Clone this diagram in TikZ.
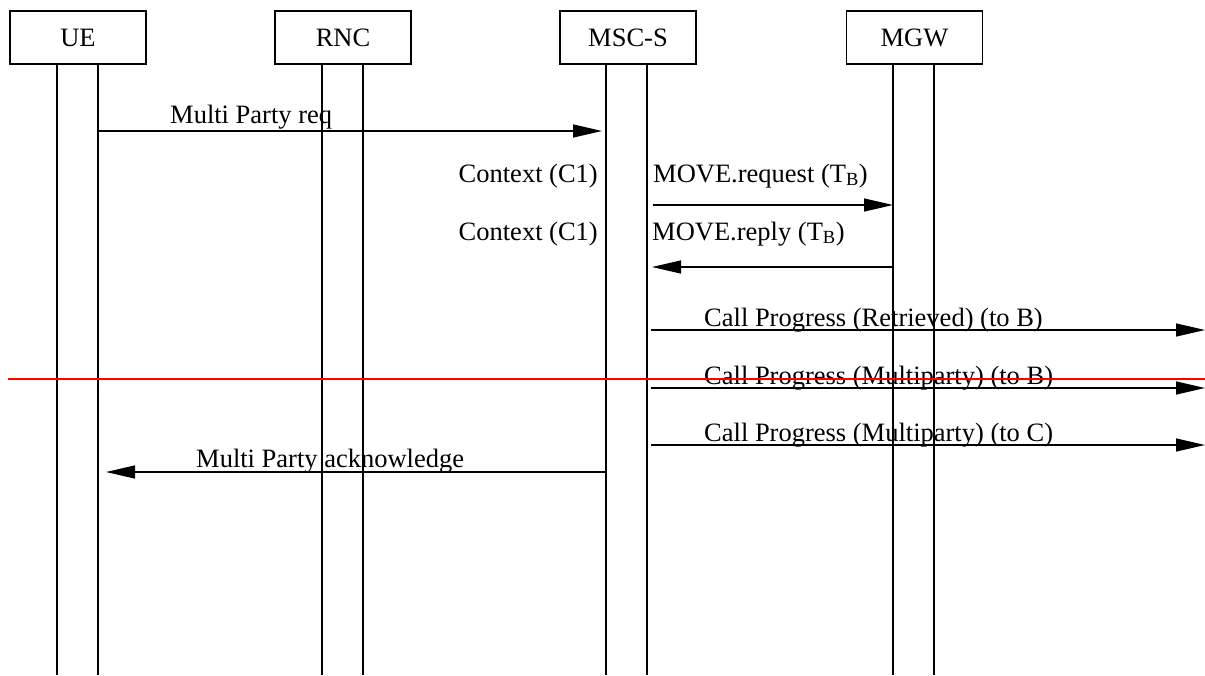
\documentclass[tikz,border=0pt]{standalone}
\usepackage{fontspec}
\setmainfont{Liberation Serif}
\usetikzlibrary{arrows.meta}
\begin{document}
\begin{tikzpicture}[x=1pt,y=-1pt,
  entity/.style={draw, line width=1.3pt, minimum width=136pt, minimum height=53pt, inner sep=0pt, font=\fontsize{26.5}{30}\selectfont},
  life/.style={line width=1.3pt},
  msg/.style={line width=1.3pt, -{Triangle[length=29pt,width=13pt]}},
  lbl/.style={inner sep=0pt, font=\fontsize{26.5}{30}\selectfont},
  redline/.style={line width=1.4pt, draw=red}]
\useasboundingbox (0,0) rectangle (1205,675);
% entities
\node[entity] (ue)  at (78,37.5)  {UE};
\node[entity] (rnc) at (343,37.5) {RNC};
\node[entity] (msc) at (628,37.5) {MSC-S};
\node[entity] (mgw) at (914.5,37.5) {MGW};
% lifeline coordinates
\coordinate (ueA) at (57,64);   \coordinate (ueAb) at (57,675);
\coordinate (ueB) at (98,64);   \coordinate (ueBb) at (98,675);
\coordinate (rncA) at (322,64); \coordinate (rncAb) at (322,675);
\coordinate (rncB) at (363,64); \coordinate (rncBb) at (363,675);
\coordinate (mscA) at (606,64); \coordinate (mscAb) at (606,675);
\coordinate (mscB) at (647,64); \coordinate (mscBb) at (647,675);
\coordinate (mgwA) at (893,64); \coordinate (mgwAb) at (893,675);
\coordinate (mgwB) at (934,64); \coordinate (mgwBb) at (934,675);
\foreach \l in {ueA,ueB,rncA,rncB,mscA,mscB,mgwA,mgwB}
  \draw[life] (\l) -- (\l b);
% message end points
\coordinate (m1s) at (98,131);  \coordinate (m1e) at (602,131);
\coordinate (m2s) at (653,205); \coordinate (m2e) at (893,205);
\coordinate (m3s) at (893,267); \coordinate (m3e) at (652,267);
\coordinate (m4s) at (651,330); \coordinate (m4e) at (1205,330);
\coordinate (m5s) at (651,388); \coordinate (m5e) at (1205,388);
\coordinate (m6s) at (651,445); \coordinate (m6e) at (1205,445);
\coordinate (m7s) at (606,472); \coordinate (m7e) at (106,472);
\coordinate (rs) at (8,379);    \coordinate (re) at (1205,379);
% messages
\draw[msg] (m1s) -- (m1e);
\draw[msg] (m2s) -- (m2e);
\draw[msg] (m3s) -- (m3e);
\draw[msg] (m4s) -- (m4e);
\draw[msg] (m5s) -- (m5e);
\draw[msg] (m6s) -- (m6e);
\draw[msg] (m7s) -- (m7e);
% labels
\node[lbl, anchor=base west] (t1) at (170,123) {Multi Party req};
\node[lbl, anchor=base east] (c1) at (598,182) {Context (C1)};
\node[lbl, anchor=base west] (t2) at (653,182) {MOVE.request (T\textsubscript{B})};
\node[lbl, anchor=base east] (c2) at (598,240) {Context (C1)};
\node[lbl, anchor=base west] (t3) at (652,240) {MOVE.reply (T\textsubscript{B})};
\node[lbl, anchor=base west] (t4) at (704,326) {Call Progress (Retrieved) (to B)};
\node[lbl, anchor=base west] (t5) at (704,384) {Call Progress (Multiparty) (to B)};
\node[lbl, anchor=base west] (t6) at (704,441.5) {Call Progress (Multiparty) (to C)};
\node[lbl, anchor=base west] (t7) at (196,467) {Multi Party acknowledge};
% red marker line
\draw[redline] (rs) -- (re);
\end{tikzpicture}
\end{document}
